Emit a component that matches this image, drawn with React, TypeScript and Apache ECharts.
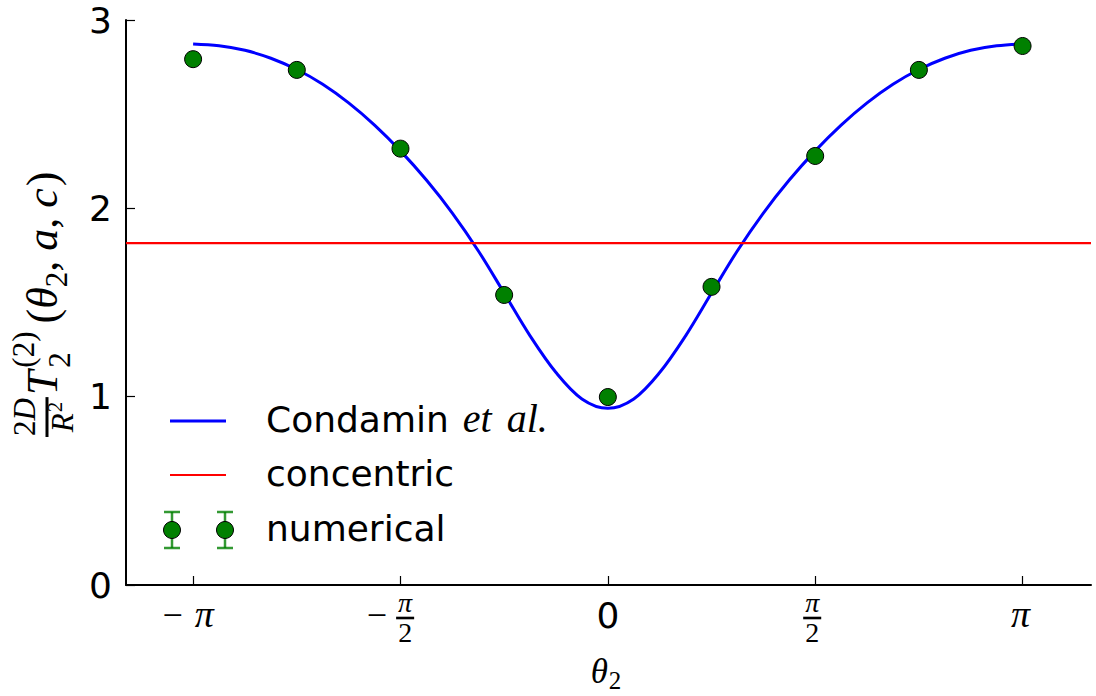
import React, { useEffect, useRef } from 'react';
import * as echarts from 'echarts';

const PI = Math.PI;

// Condamin et al. curve, sampled every π/16 over [-π, π]
const CURVE_STEPS = [
  -16, -15, -14, -13, -12, -11, -10, -9, -8, -7, -6, -5, -4, -3, -2, -1, 0,
  1, 2, 3, 4, 5, 6, 7, 8, 9, 10, 11, 12, 13, 14, 15, 16,
];
const CURVE_VALUES = [
  2.873, 2.863, 2.839, 2.797, 2.737, 2.659, 2.56, 2.442, 2.305, 2.15, 1.975, 1.775, 1.55, 1.323, 1.128, 0.988, 0.938,
  0.988, 1.128, 1.323, 1.55, 1.775, 1.975, 2.15, 2.305, 2.442, 2.56, 2.659, 2.737, 2.797, 2.839, 2.863, 2.873,
];

// numerical results, every π/4
const NUMERICAL_STEPS = [-4, -3, -2, -1, 0, 1, 2, 3, 4];
const NUMERICAL_VALUES = [2.792, 2.735, 2.317, 1.54, 0.998, 1.583, 2.278, 2.735, 2.862];

// concentric configuration (constant)
const CONCENTRIC_VALUE = 1.815;

const X_MIN = -3.65;
const X_MAX = 3.66;
const X_TICKS = [-PI, -PI / 2, 0, PI / 2, PI];
const Y_MIN = 0;
const Y_MAX = 3;
const Y_STEP = 1;

const LEGEND_LABELS = ['Condamin', 'concentric', 'numerical'];
const LEGEND_ITALIC = ['et', 'al.'];

const SERIF = '"Liberation Serif", "DejaVu Serif", serif';
const SANS = '"DejaVu Sans", sans-serif';
const BLUE = '#0000ff';
const RED = '#ff0000';
const GREEN = '#008000';

type Piece = {
  t: string;
  size: number;
  italic?: boolean;
  sans?: boolean;
  rise?: number;
  gap?: number;
  hold?: boolean;
};

let measureCtx: CanvasRenderingContext2D | null = null;
function fontOf(p: { size: number; italic?: boolean; sans?: boolean }) {
  return `${p.italic ? 'italic ' : ''}${p.size}px ${p.sans ? SANS : SERIF}`;
}
function textWidth(t: string, font: string) {
  if (!measureCtx) measureCtx = document.createElement('canvas').getContext('2d');
  measureCtx!.font = font;
  return measureCtx!.measureText(t).width;
}
function textEl(t: string, p: Piece, x: number, baseline: number) {
  return {
    type: 'text',
    x,
    y: baseline - 0.34 * p.size,
    silent: true,
    style: {
      text: t,
      font: fontOf(p),
      fill: '#000',
      align: 'left',
      verticalAlign: 'middle',
    },
  };
}

// lay pieces along a baseline; returns the end x
function layoutRun(pieces: Piece[], x0: number, base: number, out: any[] | null) {
  let x = x0;
  let held = 0;
  for (const p of pieces) {
    x += p.gap ?? 0;
    const w = textWidth(p.t, fontOf(p));
    if (out) out.push(textEl(p.t, p, x, base - (p.rise ?? 0)));
    if (p.hold) held = Math.max(held, w);
    else {
      x += Math.max(w, held);
      held = 0;
    }
  }
  return x;
}
function runWidth(pieces: Piece[]) {
  return layoutRun(pieces, 0, 0, null);
}

// stacked fraction; returns its width
function fraction(
  num: Piece[],
  den: Piece[],
  x0: number,
  barY: number,
  numBase: number,
  denBase: number,
  out: any[] | null,
  pad = 2,
  thick = 2.2,
) {
  const nw = runWidth(num);
  const dw = runWidth(den);
  const w = Math.max(nw, dw) + 2 * pad;
  if (out) {
    layoutRun(num, x0 + (w - nw) / 2, numBase, out);
    layoutRun(den, x0 + (w - dw) / 2, denBase, out);
    out.push({
      type: 'rect',
      silent: true,
      shape: { x: x0, y: barY - thick / 2, width: w, height: thick },
      style: { fill: '#000' },
    });
  }
  return w;
}

function buildGraphics(chart: echarts.ECharts) {
  const px = (v: number) => chart.convertToPixel({ xAxisIndex: 0 }, v) as number;
  const out: any[] = [];
  const F = 36;
  const S = 28;

  // x tick labels
  const base = 627;
  const barY = 618;
  const piNum: Piece[] = [{ t: 'π', size: S, italic: true }];
  const twoDen: Piece[] = [{ t: '2', size: S }];
  const fracOut = (x0: number, o: any[] | null) => fraction(piNum, twoDen, x0, barY, 612, 642, o, 2, 2.6);
  X_TICKS.forEach((v) => {
    const cx = px(v);
    if (v === 0) {
      const p: Piece = { t: '0', size: F, sans: true };
      const w = runWidth([p]);
      layoutRun([p], cx - w / 2, 628, out);
    } else if (Math.abs(v) === PI) {
      const pieces: Piece[] = v < 0
        ? [{ t: '−', size: F }, { t: 'π', size: 38, italic: true, gap: 12 }]
        : [{ t: 'π', size: 38, italic: true }];
      const w = runWidth(pieces);
      const shift = v < 0 ? -5 : -2;
      layoutRun(pieces, cx - w / 2 + shift, base, out);
    } else {
      const fw = fracOut(0, null);
      if (v < 0) {
        const minus: Piece[] = [{ t: '−', size: F }];
        const mw = runWidth(minus);
        const total = mw + 9 + fw;
        const x0 = cx - total / 2 - 10;
        layoutRun(minus, x0, base, out);
        fracOut(x0 + mw + 9, out);
      } else {
        fracOut(cx - fw / 2 - 3, out);
      }
    }
  });

  // x axis title θ₂
  const xTitle: Piece[] = [
    { t: 'θ', size: 35, italic: true },
    { t: '2', size: 25, rise: -6, gap: 1 },
  ];
  const xw = runWidth(xTitle);
  layoutRun(xTitle, 606 - xw / 2, 683, out);

  // y axis title, rotated: (2D/R²) T₂⁽²⁾ (θ₂, a, c)
  const YF = 44;
  const YS = 31;
  const yChildren: any[] = [];
  const fw = fraction(
    [{ t: '2', size: YS }, { t: 'D', size: YS, italic: true }],
    [{ t: 'R', size: YS, italic: true }, { t: '2', size: 21, rise: 11, gap: 1 }],
    0, -10, -22, 16, yChildren, 1, 3,
  );
  layoutRun(
    [
      { t: 'T', size: YF, italic: true, gap: fw + 2 },
      { t: '(2)', size: YS, rise: 23, gap: 3, hold: true },
      { t: '2', size: YS, rise: -13, gap: 0 },
      { t: '(', size: YF, gap: 8 },
      { t: 'θ', size: YF, italic: true },
      { t: '2', size: YS, rise: -10 },
      { t: ',', size: YF },
      { t: 'a', size: YF, italic: true, gap: 10 },
      { t: ',', size: YF },
      { t: 'c', size: YF, italic: true, gap: 10 },
      { t: ')', size: YF, gap: 2 },
    ],
    0, 0, yChildren,
  );
  out.push({ type: 'group', x: 57, y: 437, rotation: PI / 2, children: yChildren, silent: true });

  // legend
  const lx0 = 170;
  const lx1 = 226;
  const rows = [421, 475, 530];
  out.push({
    type: 'line', silent: true,
    shape: { x1: lx0, y1: rows[0], x2: lx1, y2: rows[0] },
    style: { stroke: BLUE, lineWidth: 3 },
  });
  out.push({
    type: 'line', silent: true,
    shape: { x1: lx0, y1: rows[1], x2: lx1, y2: rows[1] },
    style: { stroke: RED, lineWidth: 2.2 },
  });
  [172, 225].forEach((mx) => {
    const ebar = 'rgba(0,128,0,0.8)';
    out.push({ type: 'line', silent: true, shape: { x1: mx, y1: 512, x2: mx, y2: 548 }, style: { stroke: ebar, lineWidth: 2.5 } });
    out.push({ type: 'line', silent: true, shape: { x1: mx - 8, y1: 512, x2: mx + 8, y2: 512 }, style: { stroke: ebar, lineWidth: 2.5 } });
    out.push({ type: 'line', silent: true, shape: { x1: mx - 8, y1: 548, x2: mx + 8, y2: 548 }, style: { stroke: ebar, lineWidth: 2.5 } });
    out.push({ type: 'circle', silent: true, shape: { cx: mx, cy: 530, r: 8.5 }, style: { fill: GREEN, stroke: '#000', lineWidth: 1 } });
  });
  const tx = 266;
  const legendBase = (cy: number) => cy + 11;
  layoutRun(
    [
      { t: LEGEND_LABELS[0], size: F, sans: true },
      { t: LEGEND_ITALIC[0], size: 40, italic: true, gap: 14 },
      { t: LEGEND_ITALIC[1], size: 40, italic: true, gap: 15 },
    ],
    tx, legendBase(rows[0]), out,
  );
  layoutRun([{ t: LEGEND_LABELS[1], size: F, sans: true }], tx, legendBase(rows[1]), out);
  layoutRun([{ t: LEGEND_LABELS[2], size: F, sans: true }], tx, legendBase(rows[2]), out);

  return out;
}

export default function App() {
  const ref = useRef<HTMLDivElement>(null);

  useEffect(() => {
    if (!ref.current) return;
    const chart = echarts.init(ref.current, undefined, { renderer: 'svg' });

    const curve = CURVE_STEPS.map((k, i) => [(k * PI) / 16, CURVE_VALUES[i]]);
    const numerical = NUMERICAL_STEPS.map((k, i) => [(k * PI) / 4, NUMERICAL_VALUES[i]]);

    const axisLine = { show: true, onZero: false, lineStyle: { color: '#000', width: 2 } };

    chart.setOption({
      animation: false,
      backgroundColor: '#ffffff',
      grid: { left: 126, right: 5, top: 20, bottom: 111, containLabel: false },
      xAxis: {
        type: 'value',
        min: X_MIN,
        max: X_MAX,
        axisLine,
        axisTick: {
          show: true,
          inside: true,
          length: 9,
          customValues: X_TICKS,
          lineStyle: { color: '#000', width: 1.2 },
        },
        axisLabel: { show: false },
        splitLine: { show: false },
      },
      yAxis: {
        type: 'value',
        min: Y_MIN,
        max: Y_MAX,
        interval: Y_STEP,
        axisLine,
        axisTick: { show: true, inside: true, length: 9, lineStyle: { color: '#000', width: 1.2 } },
        axisLabel: {
          color: '#000',
          fontFamily: SANS,
          fontSize: 36,
          margin: 14,
          padding: [0, 0, 6, 0],
        },
        splitLine: { show: false },
      },
      series: [
        {
          name: 'Condamin et al.',
          type: 'line',
          data: curve,
          smooth: 0.35,
          showSymbol: false,
          lineStyle: { color: BLUE, width: 3 },
          z: 2,
        },
        {
          name: 'concentric',
          type: 'line',
          data: [
            [X_MIN, CONCENTRIC_VALUE],
            [X_MAX, CONCENTRIC_VALUE],
          ],
          showSymbol: false,
          lineStyle: { color: RED, width: 2.2 },
          z: 2,
        },
        {
          name: 'numerical',
          type: 'scatter',
          data: numerical,
          symbolSize: 17,
          itemStyle: { color: GREEN, borderColor: '#000', borderWidth: 1, opacity: 1 },
          z: 3,
        },
      ],
    });

    chart.setOption({ graphic: buildGraphics(chart) });

    return () => chart.dispose();
  }, []);

  return (
    <div
      ref={ref}
      style={{ position: 'fixed', left: 0, top: 0, width: 1096, height: 696, background: '#fff' }}
    />
  );
}
